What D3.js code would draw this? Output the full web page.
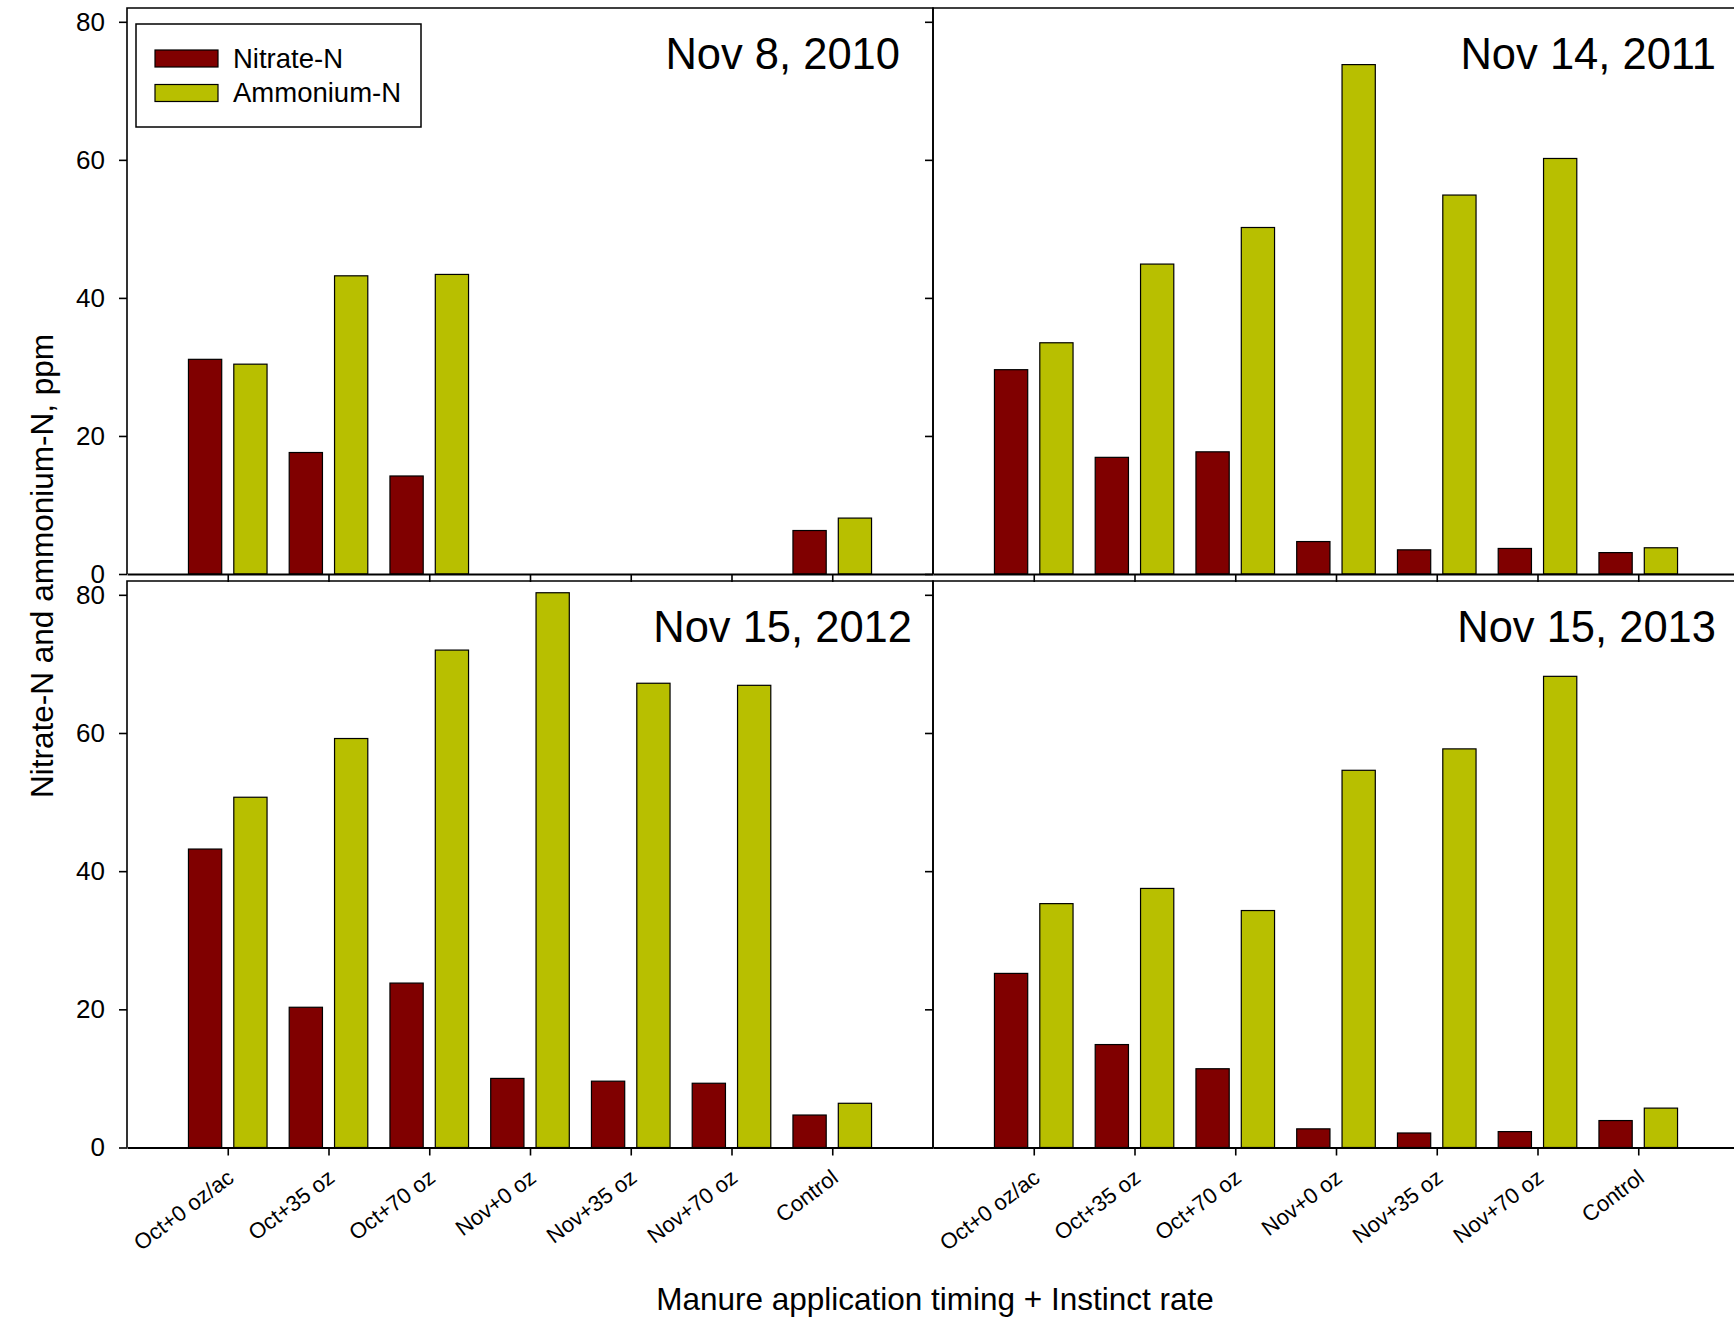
<!DOCTYPE html>
<html>
<head>
<meta charset="utf-8">
<script src="https://cdn.jsdelivr.net/npm/d3@7"></script>
<style>
  html, body { margin: 0; padding: 0; background: #fff; }
  svg { display: block; font-family: Arial, "Liberation Sans", sans-serif; }
</style>
</head>
<body>
<div id="chart"></div>
<script>
// categories and values
const categories = ["Oct+0 oz/ac", "Oct+35 oz", "Oct+70 oz", "Nov+0 oz", "Nov+35 oz", "Nov+70 oz", "Control"];
const dates = ["Nov 8, 2010", "Nov 14, 2011", "Nov 15, 2012", "Nov 15, 2013"];
const seriesNames = ["Nitrate-N", "Ammonium-N"];

const nitrate2010  = [31.1, 17.6, 14.2, null, null, null, 6.3];
const ammonium2010 = [30.4, 43.2, 43.4, null, null, null, 8.1];
const nitrate2011  = [29.6, 16.9, 17.7, 4.7, 3.5, 3.7, 3.1];
const ammonium2011 = [33.5, 44.9, 50.2, 73.8, 54.9, 60.2, 3.8];
const nitrate2012  = [43.2, 20.3, 23.8, 10.0, 9.6, 9.3, 4.7];
const ammonium2012 = [50.7, 59.2, 72.0, 80.3, 67.2, 66.9, 6.4];
const nitrate2013  = [25.2, 14.9, 11.4, 2.7, 2.1, 2.3, 3.9];
const ammonium2013 = [35.3, 37.5, 34.3, 54.6, 57.7, 68.2, 5.7];

const yTicks = [0, 20, 40, 60, 80];

document.addEventListener("DOMContentLoaded", function () {
  const width = 1734, height = 1317;
  const colors = ["#800000", "#b8bf00"];
  const panelW = 806;

  const svg = d3.select("#chart")
    .append("svg")
    .attr("width", width)
    .attr("height", height);

  const panels = [
    { date: dates[0], series: [nitrate2010, ammonium2010], left: 127, top: 8,   bottom: 574,   labels: false, yLabels: true,  titleOff: 33 },
    { date: dates[1], series: [nitrate2011, ammonium2011], left: 933, top: 8,   bottom: 574,   labels: false, yLabels: false, titleOff: 23 },
    { date: dates[2], series: [nitrate2012, ammonium2012], left: 127, top: 581, bottom: 1147.5, labels: true,  yLabels: true,  titleOff: 21 },
    { date: dates[3], series: [nitrate2013, ammonium2013], left: 933, top: 581, bottom: 1147.5, labels: true,  yLabels: false, titleOff: 23 }
  ];

  panels.forEach(p => {
    const g = svg.append("g").attr("transform", `translate(${p.left},0)`);
    const x = d3.scaleLinear().domain([0, categories.length + 1]).range([0, panelW]);
    const y = d3.scaleLinear().domain([0, 82]).range([p.bottom, p.top]);

    // frame: left, top, right
    g.append("path")
      .attr("d", `M0,${p.bottom}V${p.top}H${panelW}V${p.bottom}`)
      .attr("fill", "none")
      .attr("stroke", "#000")
      .attr("stroke-width", 1.6);

    // bars
    const barW = 0.33, half = 0.06;
    p.series.forEach((vals, s) => {
      g.selectAll(null)
        .data(vals.map((v, i) => ({ v, i })).filter(d => d.v != null))
        .enter()
        .append("rect")
        .attr("x", d => s === 0 ? x(d.i + 1 - half - barW) : x(d.i + 1 + half))
        .attr("width", x(barW) - x(0))
        .attr("y", d => y(d.v))
        .attr("height", d => y(0) - y(d.v))
        .attr("fill", colors[s])
        .attr("stroke", "#000")
        .attr("stroke-width", 1.2);
    });

    // y axis
    const yAxis = g.append("g")
      .call(d3.axisLeft(y).tickValues(yTicks).tickSize(8).tickPadding(14)
        .tickFormat(p.yLabels ? d3.format("d") : () => ""));
    yAxis.select(".domain").remove();
    yAxis.selectAll("line").attr("stroke-width", 1.6);
    yAxis.selectAll("text").attr("font-size", 26).attr("fill", "#000")
      .attr("font-family", "Arial, 'Liberation Sans', sans-serif");

    // x axis
    const xAxis = g.append("g")
      .attr("transform", `translate(0,${p.bottom})`)
      .call(d3.axisBottom(x).tickValues(d3.range(1, categories.length + 1)).tickSize(8)
        .tickSizeOuter(0)
        .tickFormat(p.labels ? (d => categories[d - 1]) : () => ""));
    xAxis.select(".domain").attr("stroke-width", 2);
    xAxis.selectAll("line").attr("stroke-width", 1.6);
    xAxis.selectAll("text")
      .attr("font-size", 22)
      .attr("fill", "#000")
      .attr("font-family", "Arial, 'Liberation Sans', sans-serif")
      .attr("x", 0).attr("y", 0).attr("dy", 0)
      .attr("text-anchor", "end")
      .attr("transform", "translate(7,33) rotate(-37)");

    // date title
    g.append("text")
      .attr("x", panelW - p.titleOff)
      .attr("y", p.top + 61)
      .attr("text-anchor", "end")
      .attr("font-size", 43.5)
      .text(p.date);
  });

  // legend
  const legend = svg.append("g");
  legend.append("rect")
    .attr("x", 136).attr("y", 24).attr("width", 285).attr("height", 103)
    .attr("fill", "#fff").attr("stroke", "#000").attr("stroke-width", 1.5);
  seriesNames.forEach((name, i) => {
    legend.append("rect")
      .attr("x", 155).attr("y", 50 + i * 34.5).attr("width", 63).attr("height", 17)
      .attr("fill", colors[i]).attr("stroke", "#000").attr("stroke-width", 1.2);
    legend.append("text")
      .attr("x", 233).attr("y", 68 + i * 34)
      .attr("font-size", 27.5)
      .text(name);
  });

  // axis titles
  svg.append("text")
    .attr("transform", "translate(53,566) rotate(-90)")
    .attr("text-anchor", "middle")
    .attr("font-size", 31.5)
    .text("Nitrate-N and ammonium-N, ppm");

  svg.append("text")
    .attr("x", 935).attr("y", 1310)
    .attr("text-anchor", "middle")
    .attr("font-size", 31.5)
    .text("Manure application timing + Instinct rate");
});
</script>
</body>
</html>
